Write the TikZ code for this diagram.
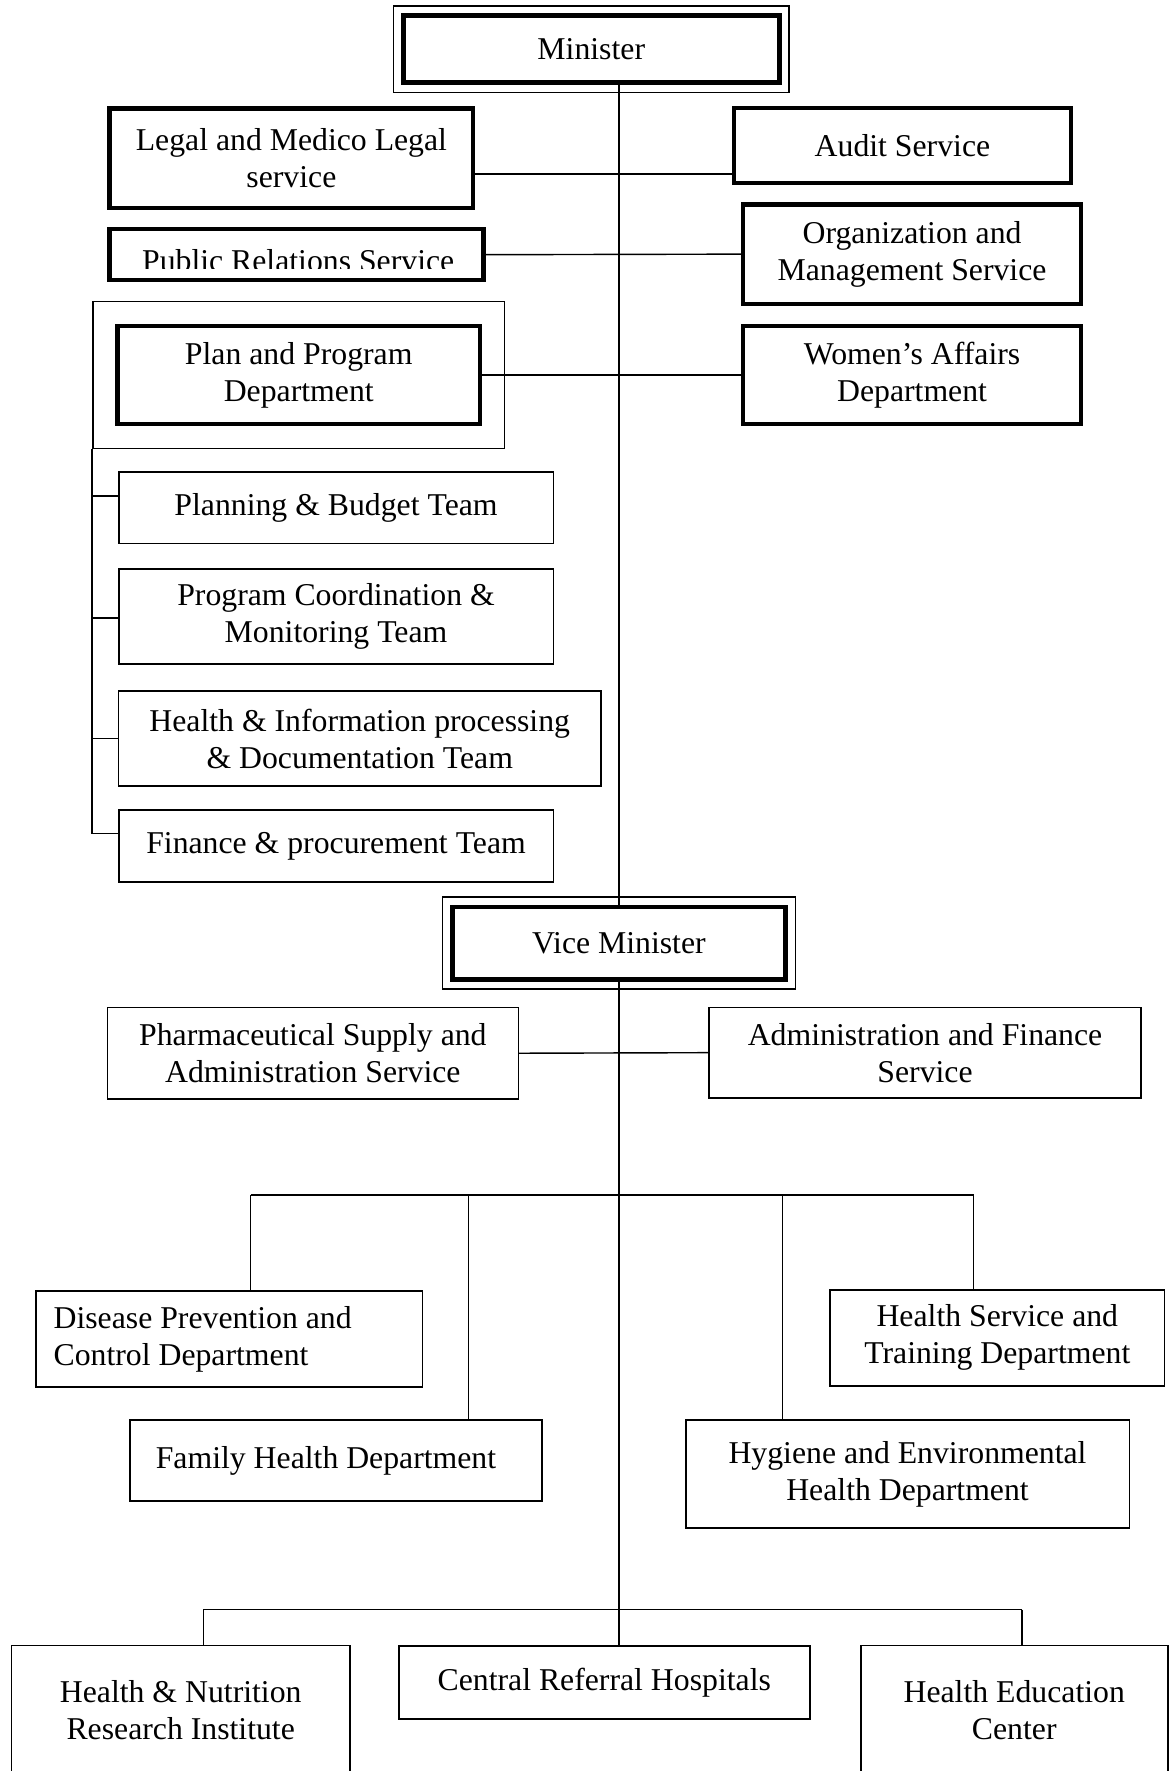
\documentclass[tikz,border=0pt]{standalone}
\usepackage{fontspec}
\setmainfont{Liberation Serif}
\usetikzlibrary{positioning,fit}
\newcommand{\orgfont}{\fontsize{18}{21}\selectfont}
\tikzset{
        orgunit/.style={align=center,inner sep=2pt,font=\orgfont},
        % Minister and vice minister
        node_head/.style={orgunit, rectangle, draw=black, line width=2.6pt},
        % Services and departments under the minister
        node_service/.style={orgunit, rectangle, draw=black, line width=2.4pt},
        % Teams, departments and institutes
        node_plain/.style={orgunit, rectangle, draw=black, line width=0.9pt},
        % Frame round the plan department
        node_group/.style={rectangle, draw=black, line width=0.8pt, inner sep=0.45cm},
        % Outer thin frame of the heads
        head_frame/.style={draw=black, line width=0.8pt}
}

\begin{document}
\begin{tikzpicture}[x=0.0225cm, y=-0.0225cm, line width=0.8pt]
    \useasboundingbox (0,0) rectangle (1036,1568);
    \clip (0,0) rectangle (1036,1568);

    % minister and the offices round him
    \node[node_head, minimum width=7.49cm, minimum height=1.33cm] (minister) at (523.5,43.5) {Minister};
    \draw[head_frame] ([shift={(-0.15cm,0.15cm)}]minister.north west) rectangle ([shift={(0.15cm,-0.15cm)}]minister.south east);

    \node[node_service, minimum width=7.25cm, minimum height=1.98cm] (legal) at (258,140) {Legal and Medico Legal\\service};
    \node[node_service, minimum width=6.71cm, minimum height=1.49cm] (audit) at (799,129) {Audit Service};
    \node[node_service, minimum width=7.45cm, minimum height=1.01cm] (pubrel) at (262.5,225.5) {};
    \begin{scope}
        \clip (pubrel.north west) rectangle (pubrel.east |- 0,238);
        \node[orgunit, anchor=base] (pubreltext) at (264,240) {Public Relations Service};
    \end{scope}
    \node[node_service, minimum width=6.73cm, minimum height=1.98cm] (orgmgmt) at (807.5,225) {Organization and\\Management Service};
    \node[node_service, minimum width=7.22cm, minimum height=1.94cm] (plan) at (264.5,332) {Plan and Program\\Department};
    \node[node_group, fit=(plan)] (plangroup) {};
    \node[node_service, minimum width=6.73cm, minimum height=1.94cm] (women) at (807.5,332) {Women’s Affairs\\Department};

    % teams of the plan and program department
    \node[node_plain, minimum width=8.66cm, minimum height=1.42cm] (budget) at (297.5,449.5) {Planning \& Budget Team};
    \node[node_plain, minimum width=8.66cm, minimum height=1.89cm] (coord) at (297.5,546) {Program Coordination \&\\Monitoring Team};
    \node[node_plain, minimum width=9.61cm, minimum height=1.89cm] (hinfo) at (318.5,654) {Health \& Information processing\\\& Documentation Team};
    \node[node_plain, minimum width=8.66cm, minimum height=1.44cm] (finance) at (297.5,749) {Finance \& procurement Team};

    % vice minister and what is under him
    \node[node_head, minimum width=6.64cm, minimum height=1.44cm] (vice) at (548,835) {Vice Minister};
    \draw[head_frame] ([shift={(-0.15cm,0.15cm)}]vice.north west) rectangle ([shift={(0.15cm,-0.15cm)}]vice.south east);

    \node[node_plain, minimum width=8.19cm, minimum height=1.82cm] (pharma) at (277,932.5) {Pharmaceutical Supply and\\Administration Service};
    \node[node_plain, minimum width=8.60cm, minimum height=1.80cm] (adminfin) at (819,932) {Administration and Finance\\Service};
    \node[node_plain, minimum width=7.70cm, minimum height=1.91cm, text width=7.0cm, align=flush left] (disease) at (203,1185.5) {Disease Prevention and\\Control Department};
    \node[node_plain, minimum width=6.66cm, minimum height=1.91cm] (hstrain) at (883,1184.5) {Health Service and\\Training Department};
    \node[node_plain, minimum width=8.21cm, minimum height=1.62cm] (family) at (297.5,1293) {Family Health Department\hspace*{0.4cm}};
    \node[node_plain, minimum width=8.84cm, minimum height=2.16cm] (hygiene) at (803.5,1305) {Hygiene and Environmental\\Health Department};
    \node[node_plain, minimum width=6.75cm, minimum height=2.59cm] (hnri) at (160,1514.5) {Health \& Nutrition\\Research Institute};
    \node[node_plain, minimum width=8.19cm, minimum height=1.46cm] (crh) at (535,1489.5) {Central Referral Hospitals};
    \node[node_plain, minimum width=6.12cm, minimum height=2.59cm] (hec) at (898,1514.5) {Health Education\\Center};

    % connectors
    \draw (vice.north |- minister.south) -- (vice.north);
    \draw (legal.east |- 0,154) -- (audit.west |- 0,154);
    \draw (pubrel.east) -- (orgmgmt.west);
    \draw (plan.east) -- (women.west);
    \draw (plangroup.south west) -- (plangroup.south west |- 0,738) -- (finance.west |- 0,738);
    \foreach \n/\y in {budget/439, coord/547, hinfo/654}
        \draw (plangroup.west |- 0,\y) -- (\n.west |- 0,\y);

    \draw (vice.south) -- (vice.south |- crh.north);
    \draw (pharma.east) -- (adminfin.west);
    \draw (222,1058) -- (862,1058);
    \foreach \x/\n in {222/disease, 415/family, 693/hygiene, 862/hstrain}
        \draw (\x,1058) -- (\n.north -| \x,0);
    \draw (180,1425) -- (905,1425);
    \draw (180,1425) -- (hnri.north -| 180,0);
    \draw (905,1425) -- (hec.north -| 905,0);
\end{tikzpicture}
\end{document}
